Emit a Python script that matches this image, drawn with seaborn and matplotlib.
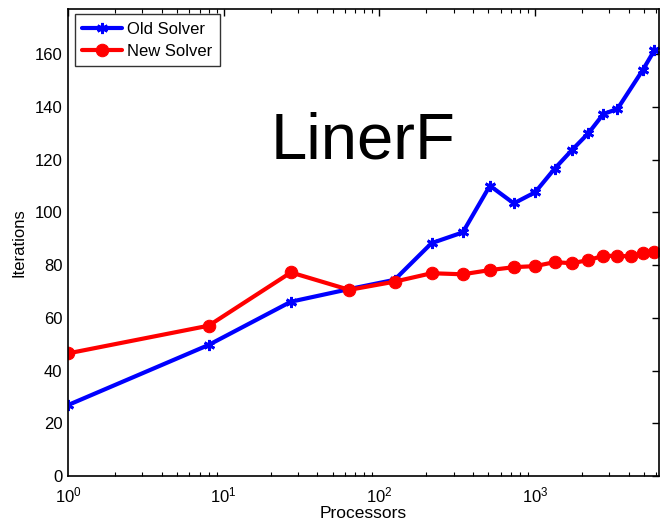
import matplotlib
matplotlib.use("Agg")
import matplotlib.pyplot as plt
import seaborn as sns
import pandas as pd
import numpy as np

sns.set_theme(style="white")
plt.rcParams['font.family'] = ['Liberation Sans', 'DejaVu Sans']
plt.rcParams['text.color'] = 'black'
plt.rcParams['axes.labelcolor'] = 'black'
plt.rcParams['xtick.color'] = 'black'
plt.rcParams['ytick.color'] = 'black'
plt.rcParams['mathtext.fontset'] = 'custom'
plt.rcParams['mathtext.rm'] = 'Liberation Sans'
plt.rcParams['mathtext.it'] = 'Liberation Sans'
plt.rcParams['mathtext.bf'] = 'Liberation Sans'

old_procs = [1, 8, 27, 64, 125, 216, 343, 512, 729, 1000, 1331, 1728, 2197, 2744, 3375, 4913, 5832]
old_iters = [26.9, 49.7, 66.1, 70.9, 74.4, 88.3, 92.4, 110.1, 103.4, 107.6, 116.5, 123.7, 130.0, 137.3, 139.2, 154.0, 161.5]

new_procs = [1, 8, 27, 64, 125, 216, 343, 512, 729, 1000, 1331, 1728, 2197, 2744, 3375, 4096, 4913, 5832]
new_iters = [46.5, 57.0, 77.2, 70.6, 73.7, 76.9, 76.5, 78.1, 79.2, 79.6, 81.1, 80.7, 81.9, 83.5, 83.5, 83.3, 84.5, 84.9]

title_text = "LinerF"
x_label = "Processors"
y_label = "Iterations"

fig = plt.figure(figsize=(6.62, 5.23), dpi=100)
ax = fig.add_axes([68/662, 1-476/523, (659-68)/662, (476-9.3)/523])

df_old = pd.DataFrame({"p": old_procs, "it": old_iters})
df_new = pd.DataFrame({"p": new_procs, "it": new_iters})

sns.lineplot(data=df_old, x="p", y="it", ax=ax, color="#0000ff", lw=3,
             marker=(6, 2, 0), markersize=8, markeredgewidth=2, markeredgecolor="#0000ff",
             label="Old Solver", sort=False)
sns.lineplot(data=df_new, x="p", y="it", ax=ax, color="#ff0000", lw=3,
             marker="o", markersize=9, markeredgecolor="#ff0000",
             label="New Solver", sort=False)

ax.set_xscale("log")
ax.set_xlim(1, 6240)
ax.set_ylim(0, 177)
ax.set_yticks(np.arange(0, 161, 20))

for s in ax.spines.values():
    s.set_color("black")
    s.set_linewidth(1.2)

ax.tick_params(which="both", direction="in", top=True, right=True, colors="black",
               labelsize=12)
ax.tick_params(which="major", length=5, width=1)
ax.tick_params(axis="x", which="major", pad=7)
ax.tick_params(axis="y", which="major", pad=4)
ax.tick_params(which="minor", length=3, width=0.8, bottom=True, top=True)
ax.xaxis.set_minor_locator(matplotlib.ticker.LogLocator(base=10, subs=np.arange(2, 10)))

ax.set_xlabel(x_label, fontsize=12.5, labelpad=0)
ax.set_ylabel(y_label, fontsize=12, labelpad=6)

fig.text(363/662, 1 - 158.3/523, title_text, fontsize=47, ha="center", va="baseline",
         color="black")

leg = ax.legend(loc="upper left", bbox_to_anchor=(0.0118, 0.989), fontsize=12,
                frameon=True, fancybox=False, edgecolor="black", borderpad=0.45,
                handlelength=2.4, handletextpad=0.3, labelspacing=0.4, borderaxespad=0)
leg.get_frame().set_linewidth(1.0)
for t in leg.get_texts():
    t.set_color("black")

fig.savefig("out.png", dpi=100)
